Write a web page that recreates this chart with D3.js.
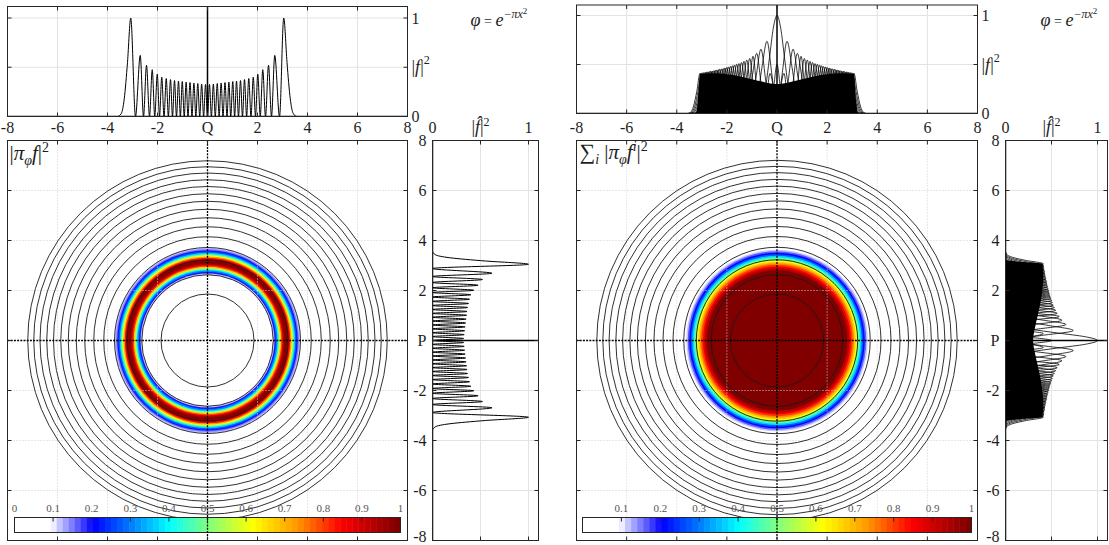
<!DOCTYPE html>
<html>
<head>
<meta charset="utf-8">
<script src="https://cdn.jsdelivr.net/npm/d3@7"></script>
<style>
  body { margin: 0; background: #fff; }
  svg { display: block; }
  text, tspan { font-family: 'Liberation Serif', 'DejaVu Serif', serif; fill: #1e1e1e; }
</style>
</head>
<body>
<script>
const overallWidth = 1109
const overallHeight = 545

// ticks of the phase space panels
const qpTicks = [-8, -6, -4, -2, 0, 2, 4, 6, 8]
const qTickLabels = ['-8', '-6', '-4', '-2', 'Q', '2', '4', '6', '8']
const pTickLabels = ['-8', '-6', '-4', '-2', 'P', '2', '4', '6', '8']
const gridTicks = [-6, -4, -2, 2, 4, 6]
const powerTicks = [0, 0.5, 1]

// colour bar ticks
const barTicks = [0, 0.1, 0.2, 0.3, 0.4, 0.5, 0.6, 0.7, 0.8, 0.9, 1]
const barTickLabelsLeft = ['0', '0.1', '0.2', '0.3', '0.4', '0.5', '0.6', '0.7', '0.8', '0.9', '1']
const barTickLabelsRight = ['', '0.1', '0.2', '0.3', '0.4', '0.5', '0.6', '0.7', '0.8', '0.9', '1']

// colour map (white below 0.09, then jet-like)
const colorStops = [0, 0.09, 0.1, 0.2, 0.4, 0.5, 0.62, 0.735, 0.85, 1]
const colorStopColors = ['#ffffff', '#ffffff', '#dcdcff', '#0000ff', '#00ffff', '#80ff80', '#ffff00', '#ff9900', '#ff0000', '#800000']

// |f|^2 of the single function (left figure), [x, value]
const fPoints = [
  [-8, 0], [-3.6, 0], [-3.45, 0.03], [-3.33, 0.18], [-3.2, 0.55], [-3.07, 1],
  [-2.88, 0], [-2.69, 0.62], [-2.56, 0], [-2.44, 0.52], [-2.32, 0], [-2.21, 0.475],
  [-2.11, 0], [-2.01, 0.43], [-1.92, 0], [-1.83, 0.4], [-1.74, 0], [-1.65, 0.385],
  [-1.565, 0], [-1.48, 0.375], [-1.4, 0], [-1.32, 0.365], [-1.24, 0], [-1.16, 0.36],
  [-1.085, 0], [-1.01, 0.355], [-0.93, 0], [-0.855, 0.35], [-0.78, 0], [-0.7, 0.345],
  [-0.62, 0], [-0.545, 0.34], [-0.465, 0], [-0.39, 0.335], [-0.31, 0], [-0.235, 0.33],
  [-0.155, 0], [-0.08, 0.325], [0, 0], [0.08, 0.325], [0.155, 0], [0.235, 0.33],
  [0.31, 0], [0.39, 0.335], [0.465, 0], [0.545, 0.34], [0.62, 0], [0.7, 0.345],
  [0.78, 0], [0.855, 0.35], [0.93, 0], [1.01, 0.355], [1.085, 0], [1.16, 0.36],
  [1.24, 0], [1.32, 0.365], [1.4, 0], [1.48, 0.375], [1.565, 0], [1.65, 0.385],
  [1.74, 0], [1.83, 0.4], [1.92, 0], [2.01, 0.43], [2.11, 0], [2.21, 0.475],
  [2.32, 0], [2.44, 0.52], [2.56, 0], [2.69, 0.62], [2.88, 0], [3.05, 1],
  [3.18, 0.55], [3.31, 0.18], [3.43, 0.03], [3.58, 0], [8, 0]
]

// right figure: the lowest |f^i|^2 curves, [x, value]
const h0Points = [[-0.9, 0.006], [-0.6, 0.104], [-0.45, 0.28], [-0.3, 0.568], [-0.15, 0.868], [0, 1],
  [0.15, 0.868], [0.3, 0.568], [0.45, 0.28], [0.6, 0.104], [0.9, 0.006]]
const h1Points = [[-1.1, 0.008], [-0.8, 0.144], [-0.6, 0.47], [-0.4, 0.736], [-0.2, 0.39], [0, 0],
  [0.2, 0.39], [0.4, 0.736], [0.6, 0.47], [0.8, 0.144], [1.1, 0.008]]
const h2Points = [[-1.3, 0.005], [-1.05, 0.081], [-0.85, 0.348], [-0.64, 0.656], [-0.45, 0.334],
  [-0.282, 0], [-0.15, 0.223], [0, 0.5], [0.15, 0.223], [0.282, 0], [0.45, 0.334], [0.64, 0.656],
  [0.85, 0.348], [1.05, 0.081], [1.3, 0.005]]
const h3Points = [[-1.45, 0.004], [-1.2, 0.081], [-1, 0.359], [-0.81, 0.613], [-0.65, 0.332],
  [-0.49, 0], [-0.28, 0.41], [-0.12, 0.219], [0, 0], [0.12, 0.219], [0.28, 0.41], [0.49, 0],
  [0.65, 0.332], [0.81, 0.613], [1, 0.359], [1.2, 0.081], [1.45, 0.004]]
// outer lobes of the higher curves (peak position and height, mirrored at Q)
const lobePeakX = [0.96, 1.09, 1.21, 1.32, 1.42, 1.52, 1.61, 1.7, 1.78, 1.86, 1.94, 2.01, 2.08, 2.15, 2.22,
  2.29, 2.35, 2.41, 2.47, 2.53, 2.59, 2.65, 2.7, 2.76, 2.81, 2.86, 2.92, 2.97, 3.02, 3.07]
const lobePeakY = [0.584, 0.562, 0.546, 0.532, 0.52, 0.51, 0.502, 0.494, 0.487, 0.48, 0.475, 0.469, 0.464,
  0.459, 0.455, 0.451, 0.447, 0.443, 0.44, 0.436, 0.433, 0.43, 0.428, 0.425, 0.422, 0.42, 0.418, 0.415, 0.413, 0.411]
// lobe profile: offset from the peak, fraction of the peak
const lobeDx = [-0.19, 0, 0.13, 0.26, 0.38, 0.5]
const lobeRel = [0, 1, 0.55, 0.18, 0.03, 0]
// dense part where the oscillations overlap
const corePoints = [[-3.22, 0], [-3.15, 0.14], [-3.07, 0.4], [-2.6, 0.41], [-2, 0.4], [-1.5, 0.38],
  [-1, 0.35], [-0.5, 0.32], [0, 0.3], [0.5, 0.32], [1, 0.35], [1.5, 0.38], [2, 0.4], [2.6, 0.41],
  [3.07, 0.4], [3.15, 0.14], [3.22, 0]]

// contour circles, radius
const circleRadii = [1.86, 2.63, 3.22, 3.72, 4.15, 4.55, 4.91, 5.25, 5.57, 5.87, 6.16, 6.43, 6.7, 6.95, 7.19]

// radial profiles of the two densities, [radius, value]
const ringProfile = [[3.92, 0], [3.84, 0.04], [3.77, 0.08], [3.71, 0.11], [3.66, 0.15], [3.61, 0.2],
  [3.56, 0.28], [3.51, 0.37], [3.46, 0.48], [3.41, 0.6], [3.36, 0.72], [3.31, 0.83], [3.26, 0.93],
  [3.21, 0.98], [3.15, 1], [3.1, 0.96], [3.05, 0.9], [3, 0.8], [2.95, 0.68], [2.9, 0.55],
  [2.85, 0.4], [2.8, 0.3], [2.74, 0.2], [2.68, 0.12], [2.62, 0.06], [2.55, 0]]
const diskProfile = [[3.9, 0], [3.85, 0.02], [3.8, 0.035], [3.74, 0.06], [3.68, 0.09], [3.62, 0.12],
  [3.56, 0.16], [3.5, 0.21], [3.44, 0.28], [3.38, 0.36], [3.32, 0.44], [3.26, 0.52], [3.2, 0.6],
  [3.14, 0.68], [3.08, 0.74], [3.02, 0.8], [2.95, 0.86], [2.88, 0.93], [2.8, 1]]

const mainTop = 140
const mainBottom = 540
const barTop = 517
const barBottom = 532

const figures = [
  { id: 'a', kind: 'single', left: 7, right: 407, topTop: 6, topBottom: 116, topOne: 17.5,
    sideLeft: 432, sideOne: 528, sideRight: 538, barLeft: 14, barRight: 400,
    barLabels: barTickLabelsLeft, profile: ringProfile },
  { id: 'b', kind: 'sum', left: 576, right: 977, topTop: 4.5, topBottom: 113, topOne: 15,
    sideLeft: 1005, sideOne: 1097, sideRight: 1107, barLeft: 582, barRight: 971,
    barLabels: barTickLabelsRight, profile: diskProfile }
]

const colorScale = d3.scaleLinear().domain(colorStops).range(colorStopColors).clamp(true)
const nColors = 64
const cmap = v => colorScale(Math.min(nColors - 1, Math.floor(v * nColors)) / (nColors - 1))

const svg = d3.select('body').append('svg')
  .attr('width', overallWidth)
  .attr('height', overallHeight)
const root = svg.append('g').attr('transform', 'translate(0.5,0.5)')
const defs = svg.append('defs')

const frameColor = '#262626'
const textColor = '#1e1e1e'
const gridColor = '#e3e3e3'

function richText (sel, parts, size) {
  let cur = 0
  parts.forEach(p => {
    const sh = p.sh || 0
    sel.append('tspan')
      .attr('dy', sh - cur)
      .attr('font-size', p.fs || size)
      .attr('font-style', p.it ? 'italic' : 'normal')
      .attr('fill', textColor)
      .text(p.t)
    cur = sh
  })
  return sel
}

function clip (id, x0, y0, x1, y1) {
  defs.append('clipPath').attr('id', id)
    .append('rect').attr('x', x0).attr('y', y0).attr('width', x1 - x0).attr('height', y1 - y0)
  return `url(#${id})`
}

function frame (g, x0, y0, x1, y1, xs, ys, len) {
  const t = g.append('g').attr('stroke', frameColor).attr('stroke-width', 1)
  t.selectAll('.tt').data(xs).join('line')
    .attr('x1', d => d).attr('x2', d => d).attr('y1', y0).attr('y2', y0 + len)
  t.selectAll('.tb').data(xs).join('line').attr('class', 'tb')
    .attr('x1', d => d).attr('x2', d => d).attr('y1', y1).attr('y2', y1 - len)
  t.selectAll('.tl').data(ys).join('line').attr('class', 'tl')
    .attr('y1', d => d).attr('y2', d => d).attr('x1', x0).attr('x2', x0 + len)
  t.selectAll('.tr').data(ys).join('line').attr('class', 'tr')
    .attr('y1', d => d).attr('y2', d => d).attr('x1', x1).attr('x2', x1 - len)
  g.append('rect')
    .attr('x', x0).attr('y', y0).attr('width', x1 - x0).attr('height', y1 - y0)
    .attr('fill', 'none').attr('stroke', frameColor).attr('stroke-width', 1)
}

function lobe (px, py, side) {
  const pts = lobeDx.map((dx, i) => [px + side * dx, py * lobeRel[i]])
  return d3.sort(pts, d => d[0])
}

function drawFigure (cfg) {
  const g = root.append('g')
  const x = d3.scaleLinear().domain([-8, 8]).range([cfg.left, cfg.right])
  const yMain = d3.scaleLinear().domain([-8, 8]).range([mainBottom, mainTop])
  const yTop = d3.scaleLinear().domain([0, 1]).range([cfg.topBottom, cfg.topOne])
  const xSide = d3.scaleLinear().domain([0, 1]).range([cfg.sideLeft, cfg.sideOne])
  const rad = d3.scaleLinear().domain([0, 1]).range([0, x(1) - x(0)])
  const bar = d3.scaleLinear().domain([0, 1]).range([cfg.barLeft, cfg.barRight])

  // curves that are drawn in the top and side panels
  let curves, core
  if (cfg.kind === 'single') {
    curves = [fPoints]
    core = null
  } else {
    curves = [h3Points, h2Points, h1Points, h0Points]
    lobePeakX.forEach((px, i) => {
      curves.push(lobe(px, lobePeakY[i], 1))
      curves.push(lobe(-px, lobePeakY[i], -1))
    })
    core = corePoints
  }

  // ---------- top panel ----------
  const top = g.append('g')
  top.append('g').attr('stroke', gridColor)
    .selectAll('line').data(gridTicks).join('line')
    .attr('x1', d => x(d)).attr('x2', d => x(d)).attr('y1', cfg.topTop).attr('y2', cfg.topBottom)
  top.append('g').attr('stroke', gridColor)
    .selectAll('line').data([0.5, 1]).join('line')
    .attr('x1', cfg.left).attr('x2', cfg.right).attr('y1', d => yTop(d)).attr('y2', d => yTop(d))
  top.append('line')
    .attr('x1', x(0)).attr('x2', x(0)).attr('y1', cfg.topTop).attr('y2', cfg.topBottom)
    .attr('stroke', '#000').attr('stroke-width', 1.5)
  const topData = top.append('g').attr('clip-path', clip('ct' + cfg.id, cfg.left, cfg.topTop, cfg.right, cfg.topBottom))
  if (core) {
    topData.append('path').datum(core)
      .attr('d', d3.area().x(d => x(d[0])).y0(yTop(0)).y1(d => yTop(d[1])).curve(d3.curveMonotoneX))
      .attr('fill', '#000')
  }
  topData.selectAll('.curve').data(curves).join('path')
    .attr('d', d3.line().x(d => x(d[0])).y(d => yTop(d[1])).curve(d3.curveMonotoneX))
    .attr('fill', 'none').attr('stroke', '#000').attr('stroke-width', cfg.kind === 'single' ? 1 : 0.8)
  topData.append('line')
    .attr('x1', cfg.left).attr('x2', cfg.right).attr('y1', yTop(0)).attr('y2', yTop(0))
    .attr('stroke', '#000').attr('stroke-width', 1.5)
  frame(top, cfg.left, cfg.topTop, cfg.right, cfg.topBottom,
    qpTicks.map(x), powerTicks.map(yTop), 4)

  top.selectAll('.xl').data(qpTicks).join('text')
    .attr('x', d => x(d)).attr('y', 132.5)
    .attr('text-anchor', 'middle').attr('font-size', 16)
    .text((d, i) => qTickLabels[i])
  const yl = top.selectAll('.yl').data(powerTicks).join('text')
    .attr('x', cfg.right + 4).attr('y', d => yTop(d))
    .attr('dominant-baseline', 'central').attr('font-size', 16)
  yl.filter(d => d !== 0.5).text(d => d)
  yl.filter(d => d === 0.5).each(function () {
    richText(d3.select(this), [{ t: '|' }, { t: 'f', it: true }, { t: '|' }, { t: '2', sh: -7, fs: 12 }], 18)
  })

  richText(top.append('text').attr('x', cfg.right + 63).attr('y', 25), [
    { t: 'φ', it: true }, { t: ' = ', fs: 14 }, { t: 'e', it: true },
    { t: '−πx', it: true, sh: -8, fs: 12 }, { t: '2', sh: -12, fs: 9 }
  ], 18)

  // ---------- main panel ----------
  const main = g.append('g')
  const cx = x(0)
  const cy = yMain(0)
  const mainClip = clip('cm' + cfg.id, cfg.left, mainTop, cfg.right, mainBottom)
  main.append('g').attr('clip-path', mainClip)
    .selectAll('circle').data(cfg.profile).join('circle')
    .attr('cx', cx).attr('cy', cy).attr('r', d => rad(d[0]))
    .attr('fill', d => cmap(d[1]))
  const grid = main.append('g').attr('stroke', '#cfcfcf').attr('stroke-dasharray', '1,2')
  grid.selectAll('.gv').data(gridTicks).join('line').attr('class', 'gv')
    .attr('x1', d => x(d)).attr('x2', d => x(d)).attr('y1', mainTop).attr('y2', mainBottom)
  grid.selectAll('.gh').data(gridTicks).join('line').attr('class', 'gh')
    .attr('y1', d => yMain(d)).attr('y2', d => yMain(d)).attr('x1', cfg.left).attr('x2', cfg.right)
  main.append('g').attr('clip-path', mainClip)
    .selectAll('circle').data(circleRadii).join('circle')
    .attr('cx', cx).attr('cy', cy).attr('r', d => rad(d))
    .attr('fill', 'none').attr('stroke', '#1a1a1a').attr('stroke-width', 0.9)

  // colour bar
  const cb = main.append('g')
  cb.selectAll('rect').data(d3.range(nColors)).join('rect')
    .attr('x', i => bar(i / nColors)).attr('width', i => bar((i + 1) / nColors) - bar(i / nColors) + 0.5)
    .attr('y', barTop).attr('height', barBottom - barTop)
    .attr('fill', i => cmap((i + 0.5) / nColors))
  cb.append('g').attr('stroke', frameColor)
    .selectAll('line').data(barTicks.slice(1, -1)).join('line')
    .attr('x1', d => bar(d)).attr('x2', d => bar(d)).attr('y1', barTop).attr('y2', barTop + 4)
  cb.append('rect')
    .attr('x', bar(0)).attr('y', barTop).attr('width', bar(1) - bar(0)).attr('height', barBottom - barTop)
    .attr('fill', 'none').attr('stroke', frameColor)
  cb.selectAll('text').data(barTicks).join('text')
    .attr('x', d => bar(d)).attr('y', barTop - 6)
    .attr('text-anchor', 'middle').attr('font-size', 11).style('fill', '#555')
    .text((d, i) => cfg.barLabels[i])

  const cross = main.append('g').attr('stroke', '#000').attr('stroke-width', 1.3).attr('stroke-dasharray', '2,1.2')
  cross.append('line').attr('x1', cx).attr('x2', cx).attr('y1', mainTop).attr('y2', mainBottom)
  cross.append('line').attr('x1', cfg.left).attr('x2', cfg.right).attr('y1', cy).attr('y2', cy)

  frame(main, cfg.left, mainTop, cfg.right, mainBottom, qpTicks.map(x), qpTicks.map(yMain), 4)

  if (cfg.kind === 'single') {
    richText(main.append('text').attr('x', 9).attr('y', 159), [
      { t: '|' }, { t: 'π', it: true }, { t: 'φ', it: true, sh: 5, fs: 14 },
      { t: 'f', it: true }, { t: '|' }, { t: '2', sh: -8, fs: 14 }
    ], 21)
  } else {
    richText(main.append('text').attr('x', cfg.left + 3).attr('y', 158), [
      { t: '∑', fs: 22 }, { t: 'i', it: true, sh: 5, fs: 14 }, { t: ' |' }, { t: 'π', it: true },
      { t: 'φ', it: true, sh: 5, fs: 14 }, { t: 'f', it: true }, { t: 'i', it: true, sh: -8, fs: 14 },
      { t: '|' }, { t: '2', sh: -8, fs: 14 }
    ], 21)
  }

  // ---------- side panel ----------
  const side = g.append('g')
  side.append('g').attr('stroke', gridColor)
    .selectAll('line').data(gridTicks).join('line')
    .attr('x1', cfg.sideLeft).attr('x2', cfg.sideRight).attr('y1', d => yMain(d)).attr('y2', d => yMain(d))
  side.append('g').attr('stroke', gridColor)
    .selectAll('line').data([0.5, 1]).join('line')
    .attr('x1', d => xSide(d)).attr('x2', d => xSide(d)).attr('y1', mainTop).attr('y2', mainBottom)
  side.append('line')
    .attr('x1', cfg.sideLeft).attr('x2', cfg.sideRight).attr('y1', cy).attr('y2', cy)
    .attr('stroke', '#000').attr('stroke-width', 1.5)
  const sideData = side.append('g').attr('clip-path', clip('cs' + cfg.id, cfg.sideLeft, mainTop, cfg.sideRight, mainBottom))
  if (core) {
    sideData.append('path').datum(d3.sort(core, d => -d[0]))
      .attr('d', d3.area().y(d => yMain(d[0])).x0(xSide(0)).x1(d => xSide(d[1])).curve(d3.curveMonotoneY))
      .attr('fill', '#000')
  }
  sideData.selectAll('.curve').data(curves.map(c => d3.sort(c, d => -d[0]))).join('path')
    .attr('d', d3.line().y(d => yMain(d[0])).x(d => xSide(d[1])).curve(d3.curveMonotoneY))
    .attr('fill', 'none').attr('stroke', '#000').attr('stroke-width', cfg.kind === 'single' ? 1 : 0.8)
  sideData.append('line')
    .attr('x1', xSide(0)).attr('x2', xSide(0)).attr('y1', mainTop).attr('y2', mainBottom)
    .attr('stroke', '#000').attr('stroke-width', 1.5)
  frame(side, cfg.sideLeft, mainTop, cfg.sideRight, mainBottom, powerTicks.map(xSide), qpTicks.map(yMain), 4)

  side.selectAll('.yl').data(qpTicks).join('text')
    .attr('x', cfg.sideLeft - 6).attr('y', d => Math.min(yMain(d), mainBottom - 4))
    .attr('text-anchor', 'end').attr('dominant-baseline', 'central').attr('font-size', 16)
    .text((d, i) => pTickLabels[i])
  const sl = side.selectAll('.xl').data(powerTicks).join('text')
    .attr('x', d => xSide(d)).attr('y', 132.5)
    .attr('text-anchor', 'middle').attr('font-size', 16)
  sl.filter(d => d !== 0.5).text(d => d)
  sl.filter(d => d === 0.5).each(function () {
    richText(d3.select(this), [{ t: '|' }, { t: 'f̂', it: true }, { t: '|' }, { t: '2', sh: -7, fs: 12 }], 18)
  })
}

figures.forEach(drawFigure)
</script>
</body>
</html>
